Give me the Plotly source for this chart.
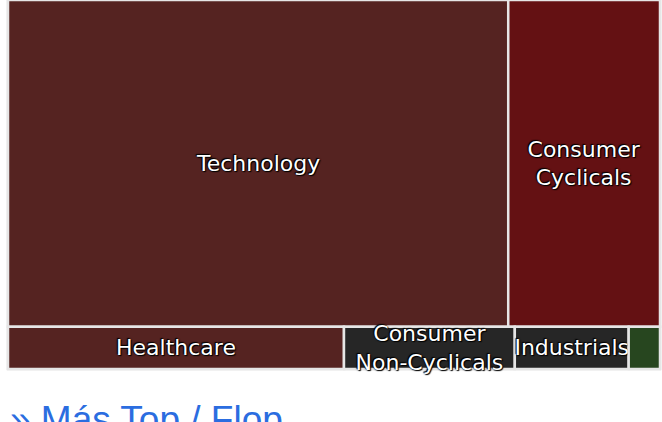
import plotly.graph_objects as go

# Sector weights (percent)
sectors = ["Technology", "Consumer Cyclicals", "Healthcare",
           "Consumer Non-Cyclicals", "Industrials", "Basic Materials"]
weights = [67.9, 20.6, 5.9, 3.0, 2.0, 0.55]
display = ["Technology", "Consumer<br>Cyclicals", "Healthcare",
           "Consumer<br>Non-Cyclicals", "Industrials", ""]
row_of = ["row1", "row1", "row2", "row2", "row2", "row2"]
colors = ["#552321", "#641113", "#552321", "#262626", "#262626", "#27461f"]

ids = ["root", "row1", "row2"] + sectors
labels = ["", "", ""] + sectors
parents = ["", "root", "root"] + row_of
values = [0, 0, 0] + weights
texts = ["", "", ""] + display
marker_colors = ["#ffffff", "#ffffff", "#ffffff"] + colors

fig = go.Figure(go.Treemap(
    ids=ids,
    labels=labels,
    parents=parents,
    values=values,
    text=texts,
    texttemplate="%{text}",
    textposition="middle center",
    branchvalues="remainder",
    sort=True,
    tiling=dict(packing="dice-slice", pad=0),
    marker=dict(colors=marker_colors,
                line=dict(width=2.5, color="#e6e6e6"),
                pad=dict(t=0, l=0, r=0, b=0)),
    pathbar=dict(visible=False),
    textfont=dict(family="DejaVu Sans", size=22, color="white",
                  shadow="0 0 2px #000, 1px 1px 1px #000, -1px -1px 1px #000"),
    hoverinfo="label+value",
))

fig.add_annotation(
    text="» Más Top / Flop",
    xref="paper", yref="paper", x=0.0, y=-0.077,
    xanchor="left", yanchor="top", showarrow=False,
    font=dict(family="Liberation Sans", size=37, color="#2b6de0"),
)

fig.update_layout(
    width=662, height=422,
    margin=dict(l=8, r=2, t=0, b=53),
    paper_bgcolor="white",
    uniformtext=dict(minsize=22, mode="show"),
)

fig.write_html("out.html", config={"displayModeBar": False},
               post_script="document.body.style.margin='0';document.body.style.overflow='hidden';")
